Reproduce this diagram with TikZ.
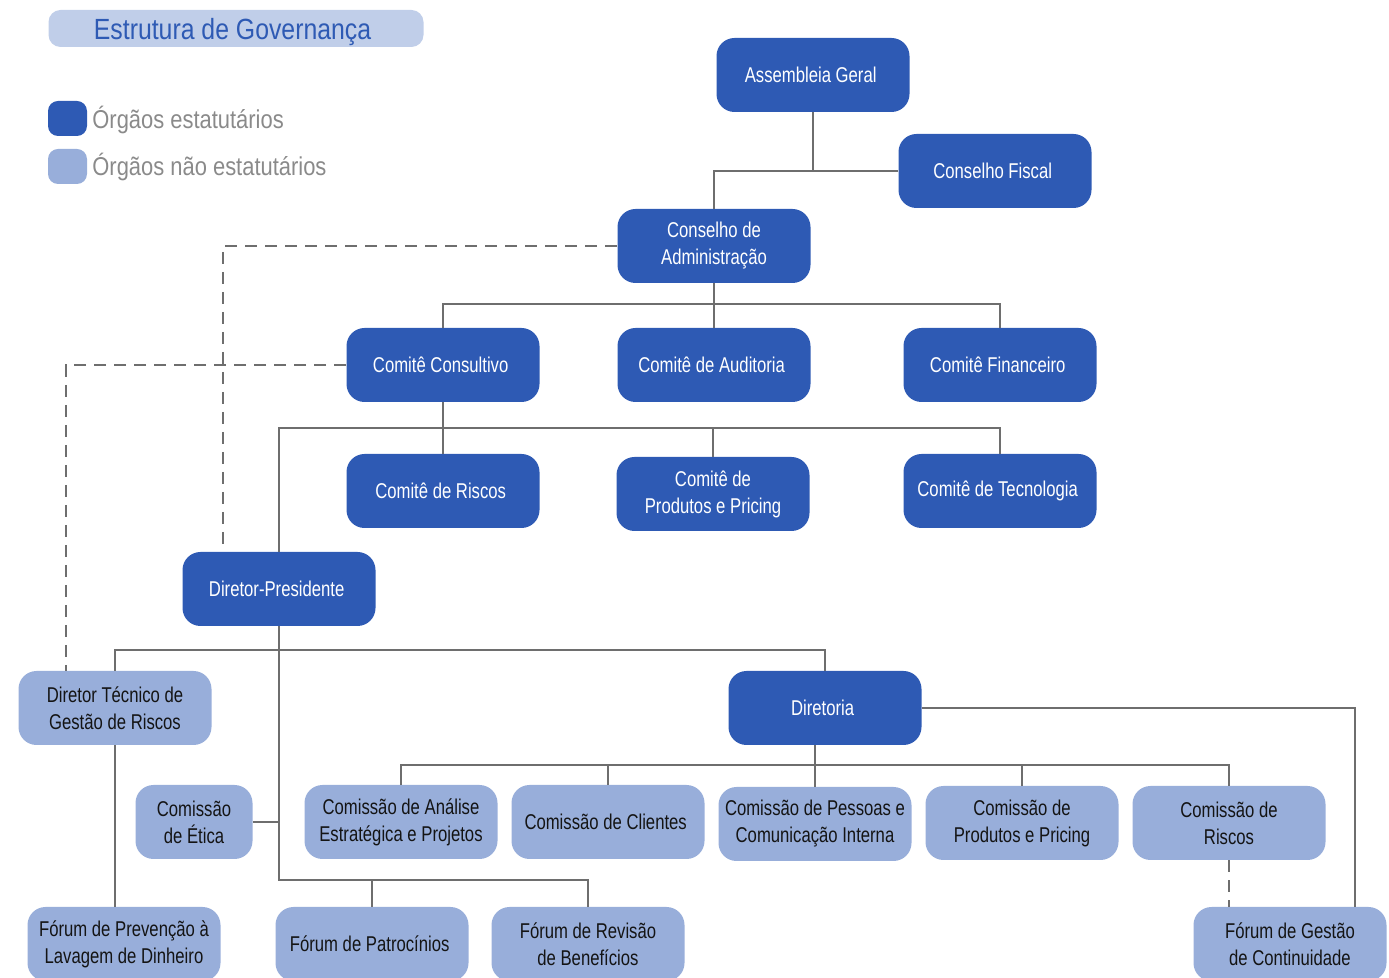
\documentclass[tikz,border=0pt]{standalone}
\usepackage{fontspec}
\setmainfont{Liberation Sans}[FakeStretch=0.85]
\newfontfamily\nodefont{Liberation Sans}[FakeStretch=0.78]
\usetikzlibrary{positioning,shapes}
\usepackage{xcolor}
\definecolor{orgaoblue}{RGB}{46,90,180}
\definecolor{naoorgaoblue}{RGB}{152,174,218}
\definecolor{titlebg}{RGB}{192,206,233}
\definecolor{linegray}{RGB}{110,110,110}
\definecolor{legendgray}{RGB}{138,138,138}
\definecolor{darktext}{RGB}{20,20,20}

\begin{document}
\begin{tikzpicture}[x=0.5pt, y=-0.5pt,
    every node/.style={
        rectangle,
        rounded corners=9pt,
        minimum width=96.5pt,
        minimum height=37pt,
        inner sep=2pt,
        align=center,
        font=\nodefont\fontsize{10.7}{13.5}\selectfont
    },
    orgao/.style={fill=orgaoblue, text=white},
    nao_orgao/.style={fill=naoorgaoblue, text=darktext},
    link/.style={draw=linegray, line width=1.4pt},
    dash_link/.style={link, dash pattern=on 6pt off 4pt}
]
    \useasboundingbox (0, 0) rectangle (1389, 978);

    \node (titulo) [fill=titlebg, text=orgaoblue, minimum width=187.5pt, minimum height=18.5pt, rounded corners=6pt, text depth=0pt, font=\fontsize{14.6}{16}\selectfont] at (236, 28.5)
    {
        Estrutura de Governança
    };
    \node (legenda_orgao) [fill=orgaoblue, minimum width=19.5pt, minimum height=17.5pt, rounded corners=5pt] at (67.5, 118.5) {};
    \node (legenda_orgao_texto) [anchor=west, minimum width=0pt, inner sep=0pt, text=legendgray, font=\fontsize{12.9}{14}\selectfont] at (92, 120)
    {
        Órgãos estatutários
    };
    \node (legenda_nao_orgao) [fill=naoorgaoblue, minimum width=19.5pt, minimum height=17.5pt, rounded corners=5pt] at (67.5, 166.5) {};
    \node (legenda_nao_orgao_texto) [anchor=west, minimum width=0pt, inner sep=0pt, text=legendgray, font=\fontsize{12.9}{14}\selectfont] at (92, 167)
    {
        Órgãos não estatutários
    };

    \node (assembleia_geral) [orgao] at (813, 75)
    {
        Assembleia Geral
    };
    \node (conselho_fiscal) [orgao] at (995, 171)
    {
        Conselho Fiscal
    };
    \node (conselho_administracao) [orgao] at (714, 246)
    {
        Conselho de\\Administração
    };
    \node (comite_consultivo) [orgao] at (443, 365)
    {
        Comitê Consultivo
    };
    \node (comite_auditoria) [orgao] at (714, 365)
    {
        Comitê de Auditoria
    };
    \node (comite_financeiro) [orgao] at (1000, 365)
    {
        Comitê Financeiro
    };
    \node (comite_riscos) [orgao] at (443, 491)
    {
        Comitê de Riscos
    };
    \node (comite_produtos) [orgao] at (713, 494)
    {
        Comitê de\\Produtos e Pricing
    };
    \node (comite_tecnologia) [orgao] at (1000, 491)
    {
        Comitê de Tecnologia
    };
    \node (diretor_presidente) [orgao] at (279, 589)
    {
        Diretor-Presidente
    };
    \node (diretor_tecnico) [nao_orgao] at (115, 708)
    {
        Diretor Técnico de\\Gestão de Riscos
    };
    \node (diretoria) [orgao] at (825, 708)
    {
        Diretoria
    };
    \node (comissao_etica) [nao_orgao, minimum width=58.5pt] at (194, 822)
    {
        Comissão\\de Ética
    };
    \node (comissao_analise) [nao_orgao] at (401, 822)
    {
        Comissão de Análise\\Estratégica e Projetos
    };
    \node (comissao_clientes) [nao_orgao] at (608, 822)
    {
        Comissão de Clientes
    };
    \node (comissao_pessoas) [nao_orgao] at (815, 824)
    {
        Comissão de Pessoas e\\Comunicação Interna
    };
    \node (comissao_produtos) [nao_orgao] at (1022, 823)
    {
        Comissão de\\Produtos e Pricing
    };
    \node (comissao_riscos) [nao_orgao] at (1229, 823)
    {
        Comissão de\\Riscos
    };
    \node (forum_prevencao) [nao_orgao] at (124, 944)
    {
        Fórum de Prevenção à\\Lavagem de Dinheiro
    };
    \node (forum_patrocinios) [nao_orgao] at (372, 944)
    {
        Fórum de Patrocínios
    };
    \node (forum_revisao) [nao_orgao] at (588, 944)
    {
        Fórum de Revisão\\de Benefícios
    };
    \node (forum_continuidade) [nao_orgao] at (1290, 944)
    {
        Fórum de Gestão\\de Continuidade
    };

    \coordinate (barra_comites) at (714, 304);
    \coordinate (barra_consultivo) at (443, 428);
    \coordinate (barra_presidente) at (279, 650);
    \coordinate (barra_foruns) at (279, 880);
    \coordinate (barra_diretoria) at (815, 765);

    \draw[link] (assembleia_geral) |- (conselho_fiscal);
    \draw[link] (conselho_fiscal) -| (conselho_administracao);
    \draw[link] (conselho_administracao) -- (comite_auditoria);
    \draw[link] (comite_consultivo) |- (barra_comites) -| (comite_financeiro);
    \draw[link] (comite_consultivo) -- (comite_riscos);
    \draw[link] (diretor_presidente) |- (barra_consultivo) -| (comite_tecnologia);
    \draw[link] (comite_produtos) -- (comite_produtos |- barra_consultivo);
    \draw[dash_link] (conselho_administracao) -| ([xshift=-28pt]diretor_presidente.north);
    \draw[dash_link] (comite_consultivo) -| ([xshift=-24.5pt]diretor_tecnico.north);
    \draw[link] (diretor_tecnico) |- (barra_presidente) -| (diretoria);
    \draw[link] (diretor_presidente) -- (barra_foruns) -| (forum_revisao);
    \draw[link] (forum_patrocinios) -- (forum_patrocinios |- barra_foruns);
    \draw[link] (comissao_etica) -- (comissao_etica -| barra_foruns);
    \draw[link] (diretor_tecnico) -- (diretor_tecnico.south |- forum_prevencao.north);
    \draw[link] (comissao_pessoas) -- (comissao_pessoas |- diretoria.south);
    \draw[link] (comissao_analise) |- (barra_diretoria) -| (comissao_riscos);
    \draw[link] (comissao_clientes) -- (comissao_clientes |- barra_diretoria);
    \draw[link] (comissao_produtos) -- (comissao_produtos |- barra_diretoria);
    \draw[link] (diretoria) -| ([xshift=32.5pt]forum_continuidade.north);
    \draw[dash_link] (comissao_riscos) -- (comissao_riscos.south |- forum_continuidade.north);
\end{tikzpicture}
\end{document}
